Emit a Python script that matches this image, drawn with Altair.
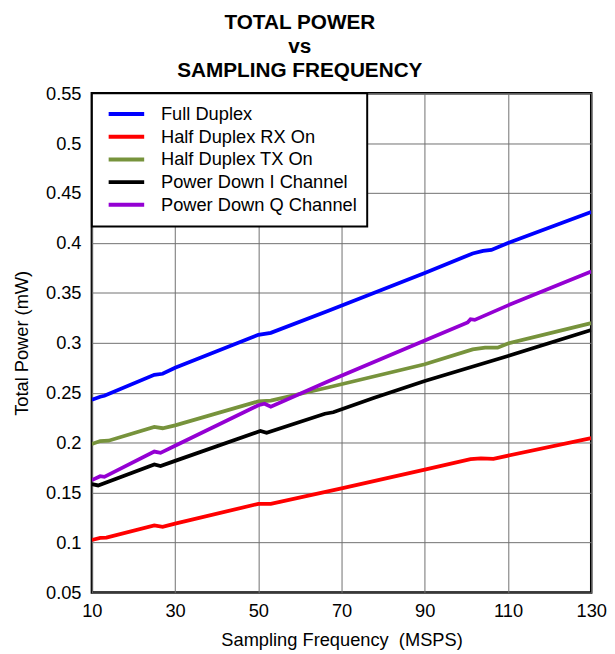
import altair as alt
import pandas as pd

# ---- data ----
series_names = ["Full Duplex", "Half Duplex RX On", "Half Duplex TX On",
                "Power Down I Channel", "Power Down Q Channel"]
series_colors = ["#0000FF", "#FF0000", "#77933C", "#000000", "#9400D3"]

fd_x = [10, 12, 13, 25, 27, 30, 50, 53, 66.7, 90, 101.5, 104, 106, 110, 130]
fd_y = [0.243, 0.246, 0.247, 0.268, 0.269, 0.275, 0.308, 0.310, 0.332, 0.370,
        0.3895, 0.392, 0.393, 0.400, 0.431]

rx_x = [10, 12, 13.5, 25, 27, 30, 50, 53, 70, 90, 101, 103.5, 106.5, 130]
rx_y = [0.1026, 0.1046, 0.1049, 0.1171, 0.1158, 0.119, 0.1388, 0.1388, 0.1543,
        0.173, 0.1836, 0.1842, 0.1839, 0.2046]

tx_x = [10, 12, 14, 25, 27, 30, 50, 53, 66.7, 90, 101.5, 104.5, 107.5, 110, 130]
tx_y = [0.1987, 0.2016, 0.202, 0.2158, 0.2145, 0.2174, 0.2414, 0.2421, 0.2553,
        0.2786, 0.2934, 0.2951, 0.2951, 0.2993, 0.3197]

pi_x = [10, 11.5, 25, 26.5, 30, 50.5, 52, 66, 68, 77.7, 90, 110, 130]
pi_y = [0.1586, 0.1572, 0.1783, 0.1766, 0.1818, 0.2118, 0.2099, 0.2290, 0.2305,
        0.2447, 0.2618, 0.2868, 0.3128]

pq_x = [10, 12, 13, 25, 26.5, 30, 50, 51.5, 53, 66.7, 90, 100.3, 101, 102, 110, 130]
pq_y = [0.1625, 0.1664, 0.1658, 0.1911, 0.1898, 0.197, 0.2375, 0.239, 0.236,
        0.2612, 0.3023, 0.3204, 0.3237, 0.323, 0.3375, 0.3714]

x_ticks = [10, 30, 50, 70, 90, 110, 130]
y_ticks = [0.05, 0.1, 0.15, 0.2, 0.25, 0.3, 0.35, 0.4, 0.45, 0.5, 0.55]

title_lines = ["TOTAL POWER", "vs", "SAMPLING FREQUENCY"]
x_title = "Sampling Frequency\u00a0 (MSPS)"
y_title = "Total Power (mW)"

# ---- build table ----
rows = []
for name, xs, ys in zip(series_names,
                        [fd_x, rx_x, tx_x, pi_x, pq_x],
                        [fd_y, rx_y, tx_y, pi_y, pq_y]):
    for i, (xv, yv) in enumerate(zip(xs, ys)):
        rows.append({"series": name, "f": xv, "p": yv, "i": i})
df = pd.DataFrame(rows)

FONT = "Liberation Sans"

chart = (
    alt.Chart(df)
    .mark_line(strokeWidth=3.8, clip=True)
    .encode(
        x=alt.X("f:Q",
                scale=alt.Scale(domain=[10, 130], nice=False, zero=False),
                axis=alt.Axis(values=x_ticks, title=x_title, format="d",
                              labelFlush=False, labelPadding=9,
                              titlePadding=11)),
        y=alt.Y("p:Q",
                scale=alt.Scale(domain=[0.05, 0.55], nice=False, zero=False),
                axis=alt.Axis(values=y_ticks, title=y_title, format=".2~f",
                              labelFlush=False, labelPadding=11,
                              titlePadding=14)),
        color=alt.Color("series:N",
                        scale=alt.Scale(domain=series_names, range=series_colors),
                        title=None),
        order="i:Q",
    )
    .properties(
        width=506,
        height=506,
        padding={"left": 4, "top": 0, "right": 0, "bottom": 0},
        title=alt.TitleParams(
            title_lines, fontSize=21, fontWeight="bold", font=FONT,
            anchor="middle", frame="bounds", lineHeight=24.5, offset=3,
            dx=-10, color="black"),
    )
    .configure_view(stroke="black", strokeWidth=2.5)
    .configure_axis(
        domain=False, ticks=False, grid=True, gridColor="#707070", gridWidth=1,
        labelFont=FONT, labelFontSize=18.5, labelColor="black",
        titleFont=FONT, titleFontSize=18.5, titleFontWeight="normal",
        titleColor="black",
    )
    .configure_legend(
        orient="none", legendX=0, legendY=0, padding=10,
        strokeColor="black", strokeWidth=2, fillColor="white",
        symbolType="stroke", symbolSize=1296, symbolStrokeWidth=4,
        labelFont=FONT, labelFontSize=18.5, labelColor="black",
        labelOffset=15, symbolOffset=5, clipHeight=22.3, rowPadding=0,
        labelLimit=400,
    )
)

chart.save("out.html", embed_options={"renderer": "svg", "actions": False})
